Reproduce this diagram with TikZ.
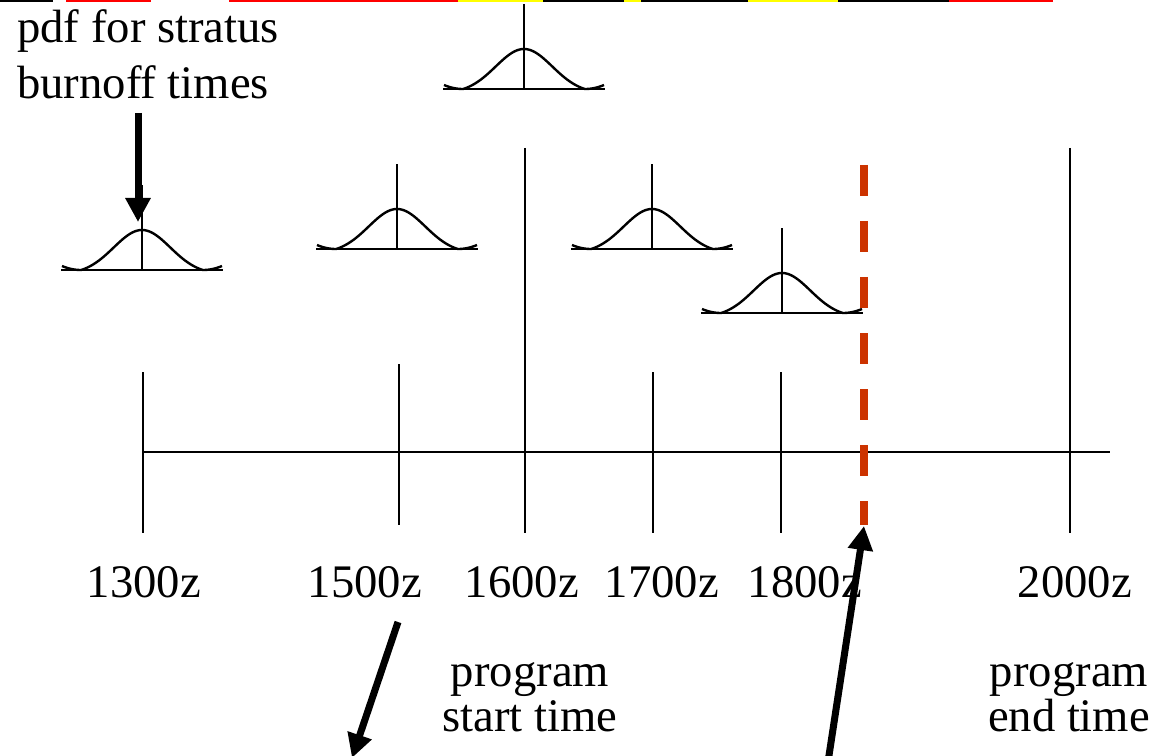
\documentclass[tikz,border=0pt]{standalone}
\usepackage{fontspec}
\setmainfont{Liberation Serif}
\usetikzlibrary{arrows.meta}
\definecolor{endred}{RGB}{204,51,0}
\definecolor{barred}{RGB}{255,0,0}
\definecolor{baryellow}{RGB}{255,255,0}
\begin{document}
\begin{tikzpicture}[x=0.75pt,y=-0.75pt,
  lbl/.style={font=\fontsize{35}{42}\selectfont, inner sep=0pt, anchor=base},
  tick/.style={line width=1.5pt},
  gline/.style={line width=1.8pt},
  bigarrow/.style={line width=5.25pt, -{Triangle[length=18pt,width=18pt]}},
  enddash/.style={endred, line width=6pt, dash pattern=on 23.25pt off 18.75pt},
  pics/gpdf/.style={code={
    \draw[gline] plot[domain=-80:80,samples=161,smooth]
      (\x,{-(max(0,40*(exp(-((\x)^2)/1600)-0.1)/0.9)+4*(max(0,abs(\x)-61)/19)^2)});
    \draw[gline] (-81,0)--(81,0);
    \draw[gline] (0,0)--(0,-85);
  }}]
\useasboundingbox (0,0) rectangle (1172,756);
% top colour strip
\fill[black] (0,0) rectangle (53,2.5);
\fill[barred] (66,0) rectangle (151,2.5);
\fill[barred] (229,0) rectangle (458,2.5);
\fill[baryellow] (458,0) rectangle (543,2.5);
\fill[black] (543,0) rectangle (624,2.5);
\fill[baryellow] (624,0) rectangle (641,2.5);
\fill[black] (641,0) rectangle (748,2.5);
\fill[baryellow] (748,0) rectangle (838,2.5);
\fill[black] (838,0) rectangle (949,2.5);
\fill[barred] (949,0) rectangle (1053,2.5);
% pdf curves
\pic (g13) at (142,270) {gpdf};
\pic (g15) at (397,249) {gpdf};
\pic (g16) at (524,89) {gpdf};
\pic (g17) at (652,249) {gpdf};
\pic (g18) at (782,313) {gpdf};
% time axis
\coordinate (ax0) at (143,452);
\coordinate (ax1) at (1110,452);
\draw[tick] (ax0) -- (ax1);
\draw[tick] (143,372) -- (143,533);
\draw[tick] (399,364) -- (399,525);
\draw[tick] (525,148) -- (525,533);
\draw[tick] (653,372) -- (653,533);
\draw[tick] (781,372) -- (781,533);
\draw[tick] (1070,148) -- (1070,533);
% dashed end line
\coordinate (d0) at (864,165);
\coordinate (d1) at (864,525);
\draw[enddash] (d0) -- (d1);
% labels
\node[lbl] (t13) at (144,597) {1300z};
\node[lbl] (t15) at (365,597) {1500z};
\node[lbl] (t16) at (522,597) {1600z};
\node[lbl] (t17) at (662,597) {1700z};
\node[lbl] (t18) at (805,597) {1800z};
\node[lbl] (t20) at (1075,597) {2000z};
\node[lbl, anchor=base west, align=left, font=\fontsize{35}{42}\selectfont] (pdf) at (17,99) {pdf for stratus\\burnoff times};
\node[lbl, align=center, font=\fontsize{35}{33.5}\selectfont] (pst) at (530,731) {program\\start time};
\node[lbl, align=center, font=\fontsize{35}{33.5}\selectfont] (pet) at (1069,731) {program\\end time};
% arrows
\coordinate (a1s) at (138,113);
\coordinate (a1e) at (138,222);
\draw[bigarrow] (a1s) -- (a1e);
\coordinate (a2s) at (398,622);
\coordinate (a2e) at (352,758);
\draw[bigarrow] (a2s) -- (a2e);
\coordinate (a3s) at (828,762);
\coordinate (a3e) at (864,526);
\draw[bigarrow] (a3s) -- (a3e);
\end{tikzpicture}
\end{document}
